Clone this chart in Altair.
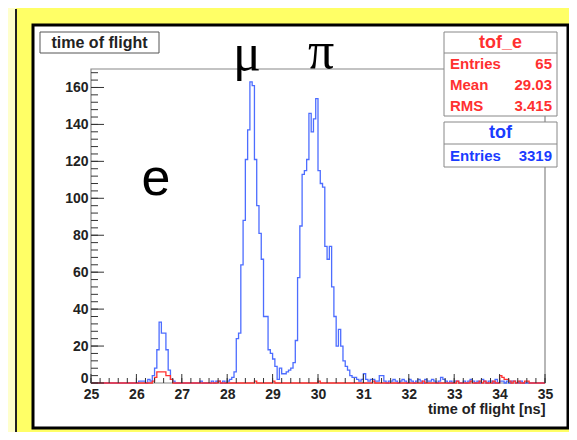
import altair as alt
import pandas as pd

# ---------------- data ----------------
x_min, x_max, bin_width = 25.0, 35.0, 0.05

tof_counts = (
    [0] * 20 +
    [0, 1, 1, 1, 0, 2, 1, 4, 8, 18, 33, 27, 27, 18, 7, 2, 1, 0, 0, 0] +
    [0, 0, 0, 0, 0, 0, 0, 0, 1, 0, 0, 0, 0, 1, 0, 1, 1, 0, 1, 0] +
    [1, 2, 3, 6, 24, 27, 64, 88, 121, 137, 163, 161, 121, 96, 81, 67, 36, 36, 18, 16] +
    [13, 9, 2, 8, 5, 5, 6, 7, 8, 11, 23, 57, 85, 113, 115, 121, 146, 136, 143, 154] +
    [115, 108, 106, 74, 67, 74, 52, 36, 20, 29, 20, 12, 9, 7, 4, 3, 3, 2, 1, 2] +
    [5, 2, 1, 2, 2, 1, 1, 4, 4, 1, 0, 1, 1, 2, 1, 0, 1, 2, 1, 0] +
    [2, 1, 0, 1, 2, 1, 0, 2, 1, 1, 2, 1, 0, 1, 3, 2, 1, 0, 1, 0] +
    [1, 1, 0, 0, 1, 0, 1, 2, 1, 0, 1, 0, 2, 1, 0, 1, 1, 0, 2, 0] +
    [1, 1, 0, 1, 0, 1, 1, 0, 0, 1, 0, 0, 0, 0, 0, 0, 0, 0, 0, 0]
)

tof_e_counts = (
    [0] * 20 +
    [0, 0, 0, 0, 0, 0, 0, 1, 3, 6, 6, 6, 6, 4, 4, 2, 0, 0, 0, 0] +
    [0, 0, 0, 0, 0, 0, 0, 0, 0, 0, 0, 0, 0, 0, 0, 0, 1, 0, 0, 0] +
    [0, 0, 0, 0, 0, 0, 0, 0, 0, 0, 0, 0, 1, 0, 0, 0, 0, 0, 0, 0] +
    [1, 0, 0, 0, 0, 0, 0, 0, 0, 0, 0, 0, 0, 0, 0, 0, 0, 0, 0, 0] +
    [1, 0, 0, 0, 0, 0, 0, 0, 0, 0, 0, 0, 0, 0, 0, 0, 0, 0, 0, 0] +
    [0, 0, 0, 0, 1, 0, 0, 0, 0, 0, 0, 0, 0, 0, 0, 0, 0, 0, 0, 0] +
    [0, 0, 0, 0, 0, 0, 1, 0, 0, 0, 0, 0, 0, 0, 0, 0, 0, 0, 0, 0] +
    [0, 1, 0, 0, 0, 0, 0, 1, 0, 0, 0, 1, 0, 1, 0, 0, 0, 1, 0, 0] +
    [4, 3, 2, 2, 1, 0, 1, 0, 1, 0, 0, 1, 1, 0, 0, 0, 0, 0, 0, 0]
)

x_major_ticks = [25, 26, 27, 28, 29, 30, 31, 32, 33, 34, 35]
x_minor_ticks = [round(25 + 0.2 * k, 2) for k in range(51)]
y_major_ticks = [0, 20, 40, 60, 80, 100, 120, 140, 160]
y_minor_ticks = [4 * k for k in range(43)]

hist_title = "time of flight"
x_title = "time of flight [ns]"
stats_e_name = "tof_e"
stats_e_rows = [("Entries", "65"), ("Mean", "29.03"), ("RMS", "3.415")]
stats_name = "tof"
stats_rows = [("Entries", "3319")]

BLUE = "#4d6dff"
RED = "#ff3030"
SBLUE = "#1a3cff"
FONT = "Liberation Sans"
W, H = 454, 314

xs = alt.Scale(domain=[x_min, x_max], nice=False, zero=False)
ys = alt.Scale(domain=[0, 170], nice=False)

x_axis = alt.Axis(
    values=x_major_ticks, format="d", ticks=False, domain=False, grid=False, zindex=2,
    labelFlush=False, labelFont=FONT, labelFontWeight="bold", labelFontSize=14,
    labelColor="#222222", labelPadding=4, title=x_title, titleFont=FONT,
    titleFontWeight="bold", titleFontSize=14.5, titleColor="#222222",
    titleAnchor="end", titlePadding=1)
y_axis = alt.Axis(
    values=y_major_ticks, ticks=False, domain=False, grid=False, zindex=2,
    labelFlush=False, labelFont=FONT, labelFontWeight="bold", labelFontSize=14,
    labelColor="#222222", labelPadding=3, title=None,
    labelOffset={"condition": {"test": "datum.value === 0", "value": -5}, "value": 0})


def step_frame(counts):
    rows = [{"t": x_min + bin_width * i, "n": c} for i, c in enumerate(counts)]
    rows.append({"t": x_max, "n": counts[-1]})
    return pd.DataFrame(rows)


one = alt.Data(values=[{"k": 0}])


def box(x0, x1, y0, y1, fill="white", stroke="#666666", sw=1.0):
    return alt.Chart(one).mark_rect(fill=fill, stroke=stroke, strokeWidth=sw).encode(
        x=alt.value(x0), x2=alt.value(x1), y=alt.value(y0), y2=alt.value(y1))


def hline(x0, x1, y, color="#666666", sw=1.0):
    return alt.Chart(one).mark_rule(color=color, strokeWidth=sw).encode(
        x=alt.value(x0), x2=alt.value(x1), y=alt.value(y))


def label(txt, x, y, size=14, color="black", weight="bold", align="center",
          font=FONT, baseline="middle"):
    return alt.Chart(one).mark_text(
        text=txt, fontSize=size, color=color, fontWeight=weight, align=align,
        font=font, baseline=baseline).encode(x=alt.value(x), y=alt.value(y))


# background panels
left_strip = box(-83, -75, -61, 363, fill="#ffffcc", stroke="#ffffcc", sw=0)
outer_line = alt.Chart(one).mark_rule(color="#222222", strokeWidth=2).encode(
    x=alt.value(-75), y=alt.value(-60), y2=alt.value(363))
panel = box(-58, 477, -44, 359, fill="white", stroke="black", sw=3)
frame = box(0, W, 0, H, fill="white", stroke="#888888", sw=1.2)

# histograms
blue_line = alt.Chart(step_frame(tof_counts)).mark_line(
    interpolate="step-after", color=BLUE, strokeWidth=1.3).encode(
    x=alt.X("t:Q", scale=xs, axis=x_axis),
    y=alt.Y("n:Q", scale=ys, axis=y_axis),
)
red_line = alt.Chart(step_frame(tof_e_counts)).mark_line(
    interpolate="step-after", color=RED, strokeWidth=1.3).encode(
    x=alt.X("t:Q", scale=xs, axis=x_axis), y=alt.Y("n:Q", scale=ys, axis=y_axis))

# ticks pointing inward
xmaj = alt.Chart(pd.DataFrame({"t": x_major_ticks})).mark_rule(color="#333333").encode(
    x=alt.X("t:Q", scale=xs, axis=x_axis), y=alt.value(H), y2=alt.value(H - 9))
xmin_ = alt.Chart(pd.DataFrame({"t": x_minor_ticks})).mark_rule(color="#333333").encode(
    x=alt.X("t:Q", scale=xs, axis=x_axis), y=alt.value(H), y2=alt.value(H - 5))
ymaj = alt.Chart(pd.DataFrame({"n": y_major_ticks})).mark_rule(color="#333333").encode(
    y=alt.Y("n:Q", scale=ys, axis=y_axis), x=alt.value(0), x2=alt.value(13))
ymin_ = alt.Chart(pd.DataFrame({"n": y_minor_ticks})).mark_rule(color="#333333").encode(
    y=alt.Y("n:Q", scale=ys, axis=y_axis), x=alt.value(0), x2=alt.value(7))

# title box
title_box = box(-51, 68, -37, -16, stroke="#555555")
title_txt = label(hist_title, 8.5, -26.5, size=16, weight="bold", color="#222222")

# stats boxes
se_box = box(353, 466, -37, 47, stroke="#888888")
se_sep = hline(353, 466, -16, color="#888888")
se_head = label(stats_e_name, 409.5, -26, size=18, color=RED)
s_box = box(353, 466, 53, 98, stroke="#888888")
s_sep = hline(353, 466, 75, color="#888888")
s_head = label(stats_name, 409.5, 64, size=18, color=SBLUE)

row_layers = []
for k, (nm, val) in enumerate(stats_e_rows):
    yy = -5 + 21 * k
    row_layers.append(label(nm, 359, yy, size=15, color=RED, align="left"))
    row_layers.append(label(val, 461, yy, size=15, color=RED, align="right"))
for k, (nm, val) in enumerate(stats_rows):
    yy = 87 + 21 * k
    row_layers.append(label(nm, 359, yy, size=15, color=SBLUE, align="left"))
    row_layers.append(label(val, 461, yy, size=15, color=SBLUE, align="right"))

# particle labels
mu_txt = label("\u03bc", 156, 1, size=52, weight="normal", font="Liberation Serif",
               baseline="alphabetic")
pi_txt = label("\u03c0", 230, -1, size=52, weight="normal", font="Liberation Serif",
               baseline="alphabetic")
e_txt = label("e", 65, 126, size=52, weight="normal", baseline="alphabetic")

chart = alt.layer(
    left_strip, outer_line, panel, frame,
    blue_line, red_line, xmaj, xmin_, ymaj, ymin_,
    title_box, title_txt,
    se_box, se_sep, se_head, s_box, s_sep, s_head, *row_layers,
    mu_txt, pi_txt, e_txt,
).properties(
    width=W, height=H, autosize="none",
    padding={"left": 83, "top": 61, "right": 24, "bottom": 49},
    background="#ffff66",
).configure_view(stroke=None)

chart.save("out.html", embed_options={"renderer": "svg", "actions": False})
